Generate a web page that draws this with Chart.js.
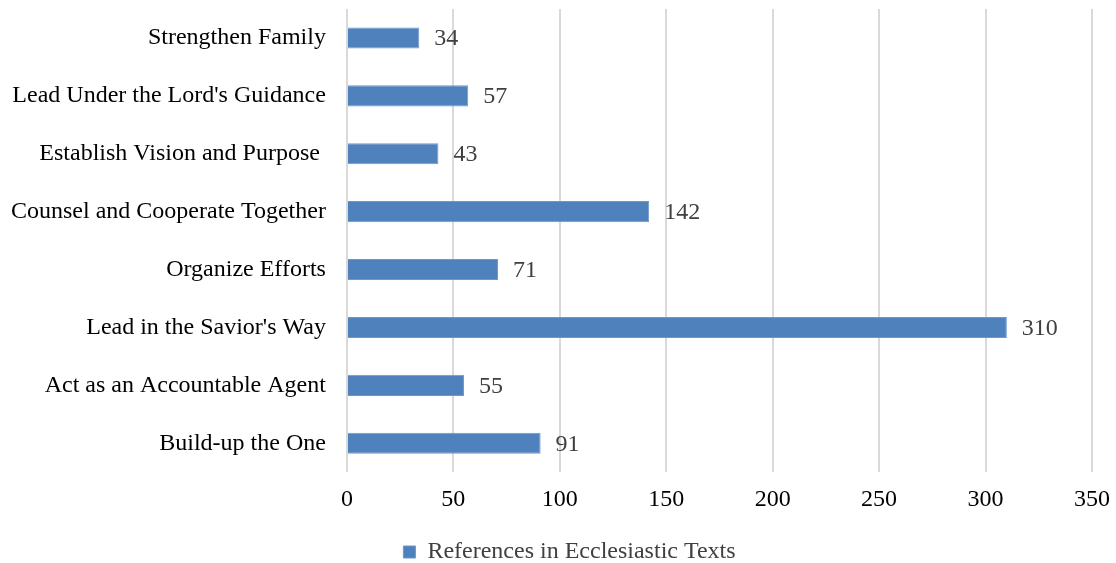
<!DOCTYPE html>
<html>
<head>
<meta charset="utf-8">
<script src="https://cdn.jsdelivr.net/npm/chart.js@4"></script>
<style>
  body { margin: 0; background: #fff; }
  #wrap { width: 1116px; height: 563px; }
</style>
</head>
<body>
<div id="wrap"><canvas id="grafico"></canvas></div>
<script>
// datos
const categorias = [
  "Strengthen Family",
  "Lead Under the Lord's Guidance",
  "Establish Vision and Purpose ",
  "Counsel and Cooperate Together",
  "Organize Efforts",
  "Lead in the Savior's Way",
  "Act as an Accountable Agent",
  "Build-up the One"
];
const referencias = [34, 57, 43, 142, 71, 310, 55, 91];
const nombreSerie = "References in Ecclesiastic Texts";

const fuente = "'Liberation Serif', 'Times New Roman', serif";

// etiquetas de valor al final de cada barra
const etiquetasValor = {
  id: 'etiquetasValor',
  afterDatasetsDraw(chart) {
    const ctx = chart.ctx;
    ctx.save();
    ctx.font = "24px " + fuente;
    ctx.fillStyle = "#404040";
    ctx.textAlign = "left";
    ctx.textBaseline = "middle";
    chart.getDatasetMeta(0).data.forEach(function (barra, i) {
      ctx.fillText(referencias[i], barra.x + 15, barra.y + 1);
    });
    ctx.restore();
  }
};

// mover un poco la leyenda (a la derecha y hacia abajo)
const moverLeyenda = {
  id: 'moverLeyenda',
  afterLayout(chart) {
    const l = chart.legend;
    l.left += 36;
    l.top += 11;
    l.bottom += 11;
  }
};

new Chart(document.getElementById('grafico'), {
  type: 'bar',
  data: {
    labels: categorias,
    datasets: [{
      label: nombreSerie,
      data: referencias,
      backgroundColor: '#4F81BD',
      borderColor: '#6f97cc',
      borderWidth: 1,
      barPercentage: 0.73,
      categoryPercentage: 0.5
    }]
  },
  options: {
    indexAxis: 'y',
    responsive: true,
    maintainAspectRatio: false,
    animation: false,
    layout: { padding: { top: 9, right: 24, bottom: 0, left: 11 } },
    plugins: {
      legend: {
        position: 'bottom',
        labels: {
          font: { family: fuente, size: 24 },
          color: '#404040',
          boxWidth: 12,
          boxHeight: 12,
          padding: 0
        }
      },
      tooltip: { enabled: false }
    },
    scales: {
      x: {
        min: 0,
        max: 350,
        ticks: {
          stepSize: 50,
          font: { family: fuente, size: 24, lineHeight: 1.2 },
          color: '#000',
          padding: 0
        },
        grid: { color: '#d9d9d9', lineWidth: 2, drawTicks: true, tickLength: 13, tickColor: 'transparent' },
        border: { display: false },
        afterFit: function (escala) { escala.height += 15; }
      },
      y: {
        ticks: {
          font: { family: fuente, size: 24, lineHeight: 0.7 },
          color: '#000',
          padding: 0
        },
        grid: { display: true, drawOnChartArea: false, drawTicks: true, tickLength: 21, tickColor: 'transparent' },
        border: { display: false }
      }
    }
  },
  plugins: [etiquetasValor, moverLeyenda]
});
</script>
</body>
</html>
